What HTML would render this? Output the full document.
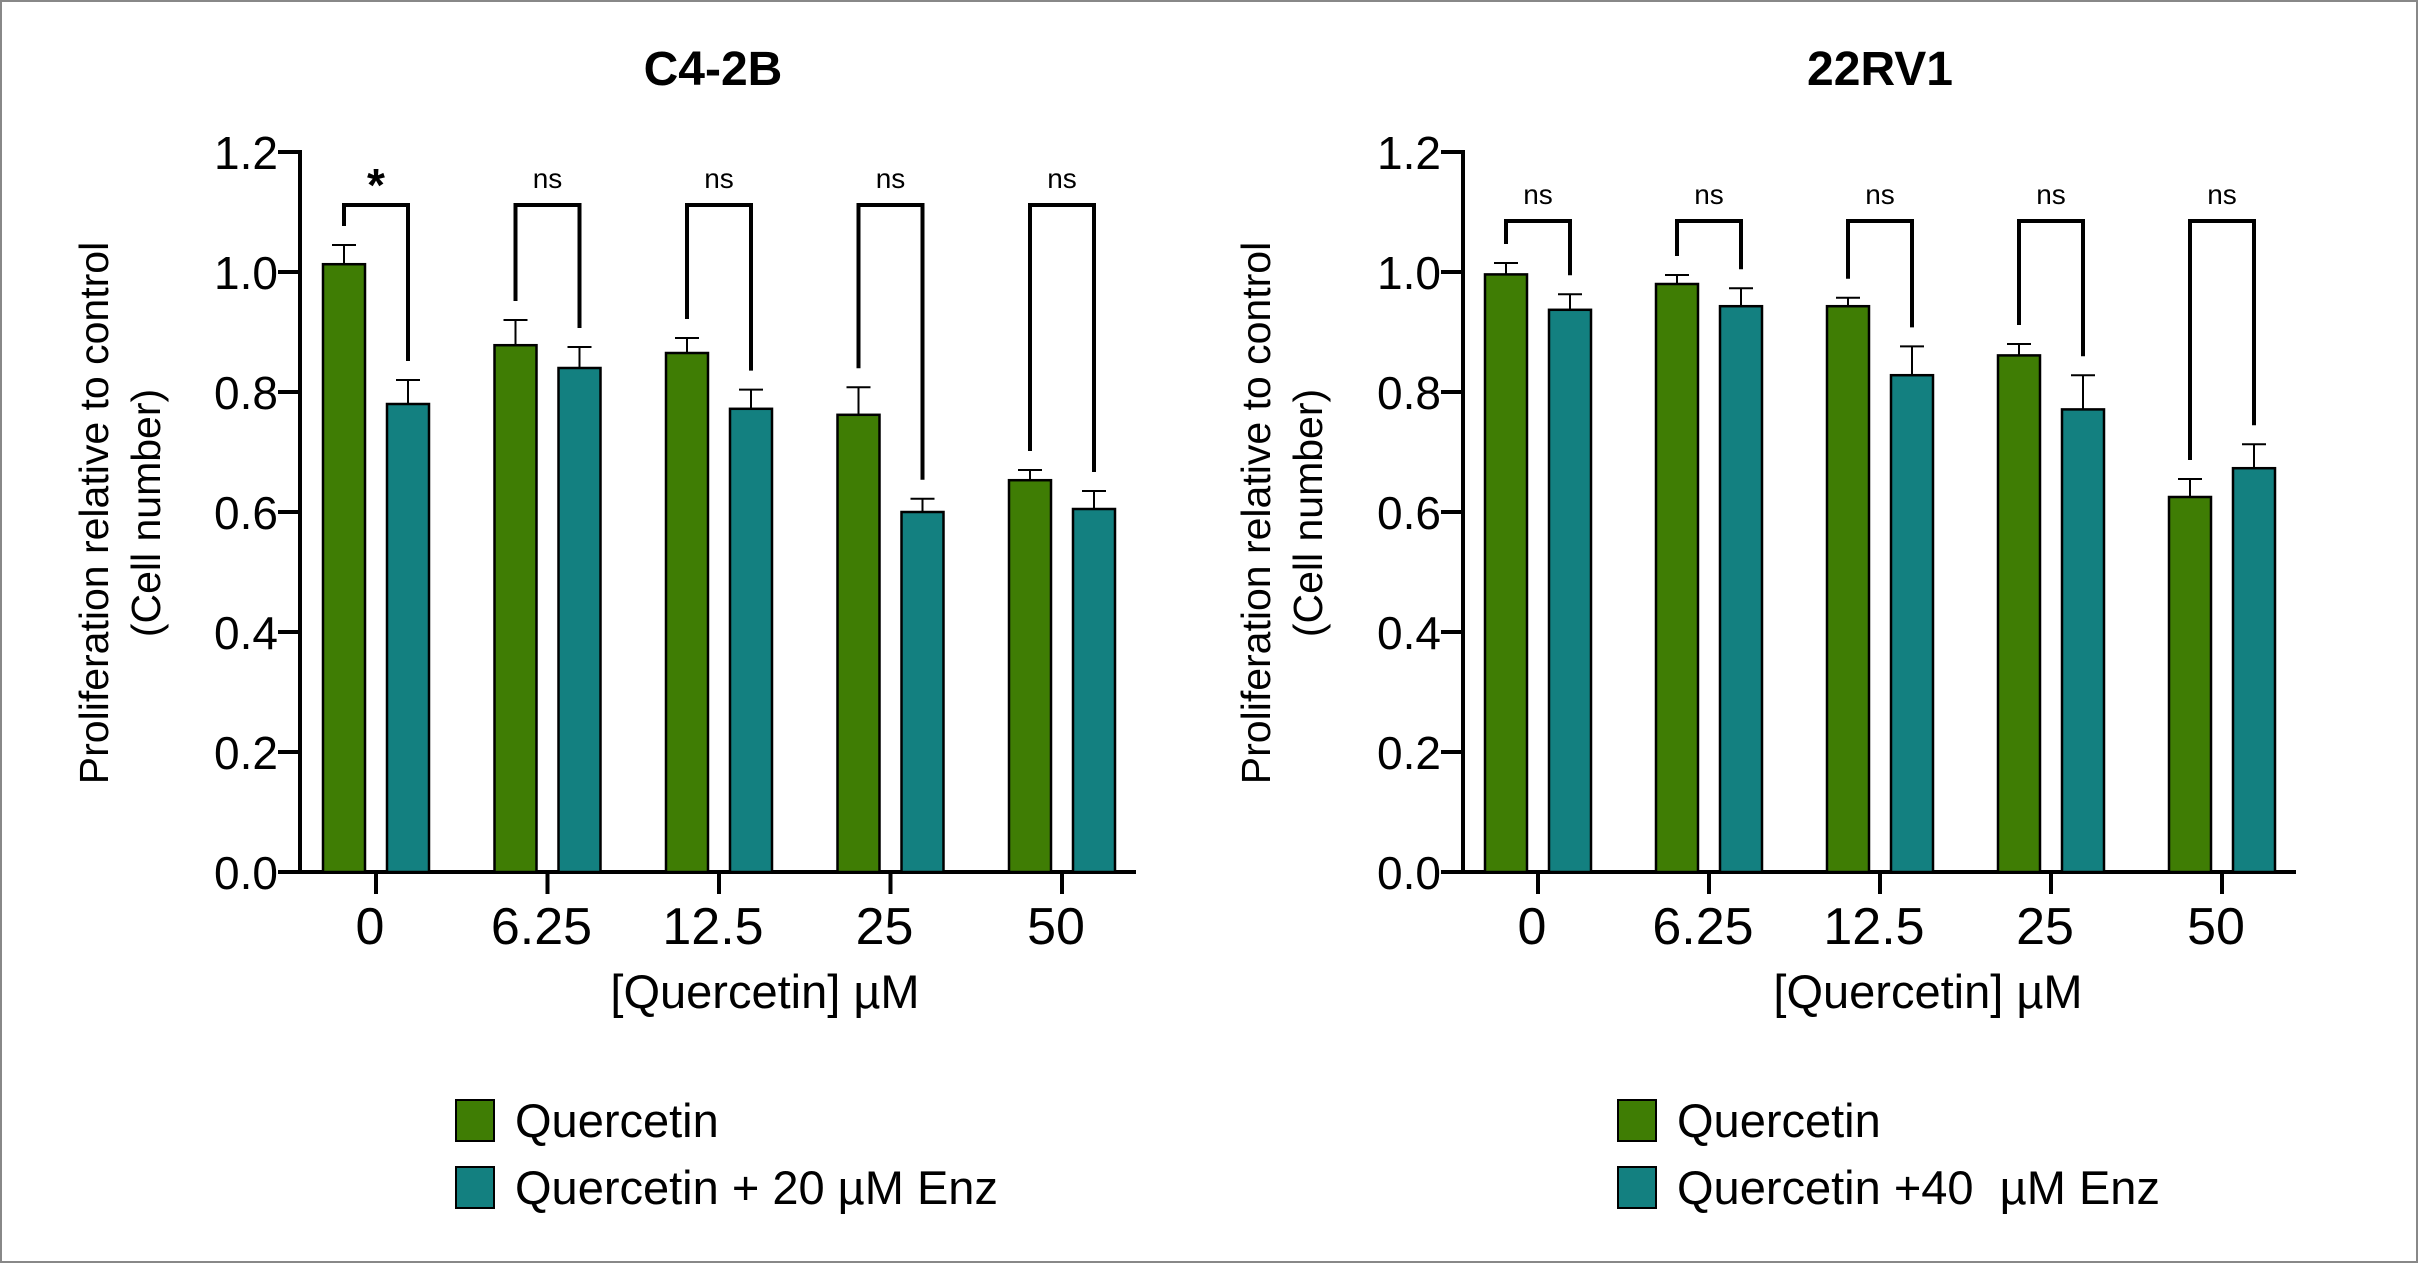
<!DOCTYPE html>
<html><head><meta charset="utf-8"><style>
html,body{margin:0;padding:0;background:#fff}
svg{display:block;font-family:"Liberation Sans",Arial,sans-serif}
svg text{white-space:pre}
</style></head><body>
<svg id="fig" width="2418" height="1263" viewBox="0 0 2418 1263" xmlns="http://www.w3.org/2000/svg">
<rect x="1" y="1" width="2416" height="1261" fill="#fff" stroke="#888" stroke-width="2"/>
</svg>
<script>
const categories = ["0","6.25","12.5","25","50"];
const yTicks = [0,0.2,0.4,0.6,0.8,1.0,1.2];
const yTickLabels = ["0.0","0.2","0.4","0.6","0.8","1.0","1.2"];
const c42bQuercetin = [1.013,0.878,0.865,0.762,0.653];
const c42bQuercetinErr = [0.032,0.042,0.025,0.046,0.017];
const c42bEnz = [0.780,0.840,0.772,0.600,0.605];
const c42bEnzErr = [0.040,0.035,0.032,0.022,0.030];
const c42bSig = ["*","ns","ns","ns","ns"];
const rvQuercetin = [0.996,0.980,0.943,0.861,0.625];
const rvQuercetinErr = [0.019,0.015,0.014,0.019,0.030];
const rvEnz = [0.937,0.943,0.828,0.771,0.673];
const rvEnzErr = [0.026,0.030,0.048,0.057,0.040];
const rvSig = ["ns","ns","ns","ns","ns"];

const svg = document.getElementById('fig');
const NS = 'http://www.w3.org/2000/svg';
function mk(tag, attrs, parent){const e=document.createElementNS(NS,tag);for(const k in attrs)e.setAttribute(k,attrs[k]);(parent||svg).appendChild(e);return e;}
const GREEN="#3f7d04", TEAL="#138080";

function drawPanel(o){
  const g = mk('g',{});
  
  
  const y = v => o.y0 - v*o.yScale;
  const xc = i => o.c0 + i*o.step;
  let t = mk('text',{x:o.titleX,y:85,'font-size':48,'font-weight':'bold','text-anchor':'middle'},g);
  t.textContent=o.title;
  
  
  let ax = mk('line',{x1:o.ax,y1:y(1.2)-2,x2:o.ax,y2:o.y0+2,stroke:'#000','stroke-width':4},g);
  
  
  yTicks.forEach((v,i)=>{
    mk('line',{x1:o.ax-22,y1:y(v),x2:o.ax,y2:y(v),stroke:'#000','stroke-width':4},g);
    const tl = mk('text',{x:o.ax-22,y:y(v)+17,'font-size':46,'text-anchor':'end'},g);
    tl.textContent=yTickLabels[i];
    
    
  });
  let xa = mk('line',{x1:o.ax-22,y1:o.y0,x2:o.xEnd,y2:o.y0,stroke:'#000','stroke-width':4},g);
  
  
  const yt = mk('text',{'font-size':41,'text-anchor':'middle',transform:`translate(${o.yTitleX},513) rotate(-90)`},g);
  
  
  const s1 = mk('tspan',{x:0,y:0},yt); s1.textContent="Proliferation relative to control";
  const s2 = mk('tspan',{x:0,y:52},yt); s2.textContent="(Cell number)";
  const xt = mk('text',{x:o.xTitleX,y:1008,'font-size':47,'text-anchor':'middle'},g);
  xt.textContent="[Quercetin] µM";
  
  
  const bw=42, off=32;
  categories.forEach((c,i)=>{
    const cx = xc(i);
    mk('line',{x1:cx,y1:o.y0,x2:cx,y2:o.y0+22,stroke:'#000','stroke-width':4},g);
    const tl = mk('text',{x:cx-6,y:944,'font-size':52,'text-anchor':'middle'},g);
    tl.textContent=c;
    
    
    const series=[[o.a,o.aErr,GREEN,cx-off,'quercetin'],[o.b,o.bErr,TEAL,cx+off,'enz']];
    const tops=[];
    series.forEach(([vals,errs,col,bx,nm])=>{
      const v=vals[i], e=errs[i];
      const top = y(v+e);
      tops.push(top);
      mk('line',{x1:bx,y1:y(v),x2:bx,y2:top,stroke:'#000','stroke-width':2},g);
      mk('line',{x1:bx-12,y1:top,x2:bx+12,y2:top,stroke:'#000','stroke-width':2},g);
      const r = mk('rect',{x:bx-bw/2,y:y(v),width:bw,height:o.y0-y(v),fill:col,stroke:'#000','stroke-width':2.5},g);
      
      
    });
    const br = mk('path',{d:`M${cx-off},${tops[0]-19} V${o.brY} H${cx+off} V${tops[1]-19}`,fill:'none',stroke:'#000','stroke-width':4},g);
    
    
    const sg = o.sig[i];
    const st = mk('text',{x:cx,y:sg==='*'?o.brY-4:o.brY-17,'font-size':sg==='*'?46:28,'font-weight':sg==='*'?'bold':'normal','text-anchor':'middle'},g);
    st.textContent=sg;
    
    
  });
  [[GREEN,"Quercetin",1100],[TEAL,o.legend2,1167]].forEach(([col,lab,ly],k)=>{
    const r = mk('rect',{x:o.legX,y:ly,width:38,height:41,fill:col,stroke:'#000','stroke-width':2},g);
    
    
    const lt = mk('text',{x:o.legX+59,y:ly+37,'font-size':47},g);
    lt.textContent=lab;
    
    
  });
}
drawPanel({id:'c42b',title:'C4-2B',titleX:713,ax:300,y0:872,yScale:600,c0:376,step:171.5,xEnd:1136,
  a:c42bQuercetin,aErr:c42bQuercetinErr,b:c42bEnz,bErr:c42bEnzErr,sig:c42bSig,brY:205,
  yTitleX:108,xTitleX:765,legX:456,legend2:"Quercetin + 20 µM Enz"});
drawPanel({id:'22rv1',title:'22RV1',titleX:1880,ax:1463,y0:872,yScale:600,c0:1538,step:171,xEnd:2296,
  a:rvQuercetin,aErr:rvQuercetinErr,b:rvEnz,bErr:rvEnzErr,sig:rvSig,brY:221,
  yTitleX:1270,xTitleX:1928,legX:1618,legend2:"Quercetin +40  µM Enz"});
</script>
</body></html>
